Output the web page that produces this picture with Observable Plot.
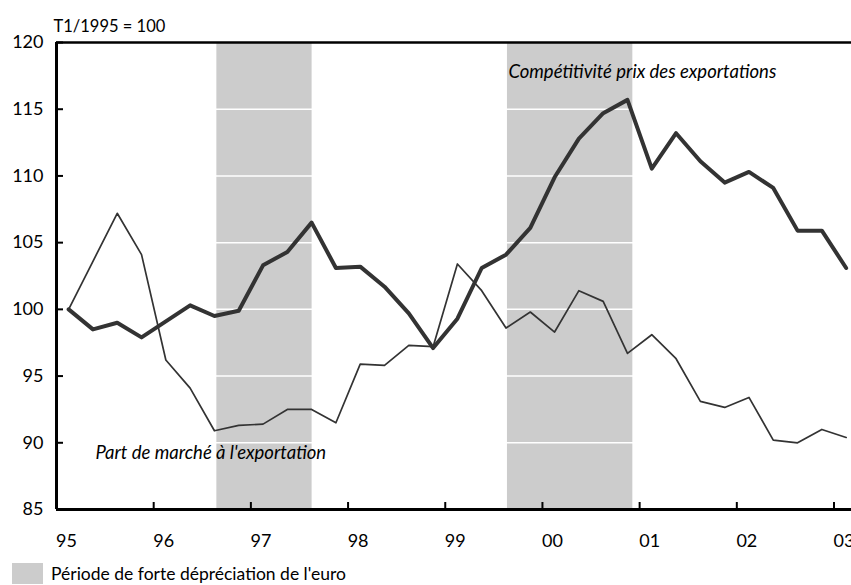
<!DOCTYPE html>
<html>
<head>
<meta charset="utf-8">
<script src="https://cdn.jsdelivr.net/npm/d3@7"></script>
<script src="https://cdn.jsdelivr.net/npm/@observablehq/plot@0.6"></script>
<style>
  body { margin: 0; background: #fff; font-family: Lato, "Open Sans", sans-serif; }
  #legend { position: relative; height: 30px; font-size: 17.5px; color: #000; }
  #legend .sw { position: absolute; left: 12px; top: 8px; width: 31px; height: 21px; background: #cccccc; }
  #legend .lb { position: absolute; left: 51px; top: 9px; line-height: 20px; }
</style>
</head>
<body>
<div id="chart"></div>
<div id="legend"><div class="sw"></div><div class="lb">Période de forte dépréciation de l'euro</div></div>
<script>
// Quarterly data, 1995 Q1 .. 2003 Q1 (T1/1995 = 100)
const startYear = 95;
const competitivite = [
  100.0, 98.5, 99.0, 97.9, 99.1, 100.3, 99.5, 99.9,
  103.3, 104.3, 106.5, 103.1, 103.2, 101.7, 99.7, 97.1,
  99.3, 103.1, 104.1, 106.1, 109.9, 112.8, 114.7, 115.7,
  110.55, 113.2, 111.1, 109.5, 110.3, 109.1, 105.9, 105.9,
  103.1
];
const partMarche = [
  100.0, 103.6, 107.2, 104.1, 96.2, 94.1, 90.9, 91.3,
  91.4, 92.5, 92.5, 91.5, 95.9, 95.8, 97.3, 97.2,
  103.4, 101.4, 98.6, 99.8, 98.3, 101.4, 100.6, 96.7,
  98.1, 96.3, 93.1, 92.65, 93.4, 90.2, 90.0, 91.0,
  90.4
];
// Periods of strong euro depreciation (in year units, 95 = 1995)
const bandStart = [96.65, 99.64];
const bandEnd = [97.63, 100.93];
const yTicks = [85, 90, 95, 100, 105, 110, 115, 120];
const xTicks = [95, 96, 97, 98, 99, 100, 101, 102, 103];
const xTickLabels = ["95", "96", "97", "98", "99", "00", "01", "02", "03"];
const gridValues = [90, 95, 100, 105, 110, 115];
const yAxisTitle = "T1/1995 = 100";
const seriesLabels = ["Compétitivité prix des exportations", "Part de marché à l'exportation"];
const labelX = [99.65, 95.4];
const labelY = [117.75, 89.26];

const qx = (i) => startYear + Math.floor(i / 4) + ((i % 4) + 0.5) / 4;
const comp = competitivite.map((v, i) => ({x: qx(i), y: v}));
const part = partMarche.map((v, i) => ({x: qx(i), y: v}));
const bands = bandStart.map((s, i) => ({x1: s, x2: bandEnd[i]}));
const labels = seriesLabels.map((t, i) => ({text: t, x: labelX[i], y: labelY[i]}));
const fmtX = (d) => xTickLabels[xTicks.indexOf(d)];

const chart = Plot.plot({
  width: 851,
  height: 555,
  marginLeft: 56,
  marginRight: 0,
  marginTop: 42,
  marginBottom: 46,
  style: {fontFamily: "Lato, 'Open Sans', sans-serif", fontSize: "18px", color: "#000", background: "#fff"},
  x: {domain: [95, 103.18], ticks: xTicks},
  y: {domain: [85, 120], ticks: yTicks},
  marks: [
    Plot.rectX(bands, {x1: "x1", x2: "x2", y1: 85, y2: 120, fill: "#cccccc"}),
    Plot.ruleY(gridValues, {stroke: "#fff", strokeWidth: 1.5}),
    Plot.line(part, {x: "x", y: "y", stroke: "#333", strokeWidth: 1.7}),
    Plot.line(comp, {x: "x", y: "y", stroke: "#333", strokeWidth: 4}),
    Plot.ruleY([120], {stroke: "#000", strokeWidth: 2.5}),
    Plot.ruleY([85], {stroke: "#000", strokeWidth: 3}),
    Plot.ruleX([95], {stroke: "#000", strokeWidth: 3}),
    Plot.axisY({ticks: yTicks, tickSize: 0, tickPadding: 13, label: null, fontSize: 18}),
    Plot.axisY({ticks: yTicks, tickSize: -7, tickFormat: () => "", label: null, strokeWidth: 2, stroke: "#000"}),
    Plot.axisX({ticks: xTicks, tickSize: 0, tickPadding: 25, tickFormat: fmtX, dx: 10, label: null, fontSize: 18}),
    Plot.axisX({ticks: xTicks, tickSize: -7, tickFormat: () => "", label: null, strokeWidth: 2, stroke: "#000"}),
    Plot.text([yAxisTitle], {frameAnchor: "top-left", dx: -3, dy: -22, textAnchor: "start", fontSize: 16.5}),
    Plot.text(labels, {x: "x", y: "y", text: "text", textAnchor: "start", fontStyle: "italic", fontSize: 18.5})
  ]
});
document.getElementById("chart").appendChild(chart);
</script>
</body>
</html>
